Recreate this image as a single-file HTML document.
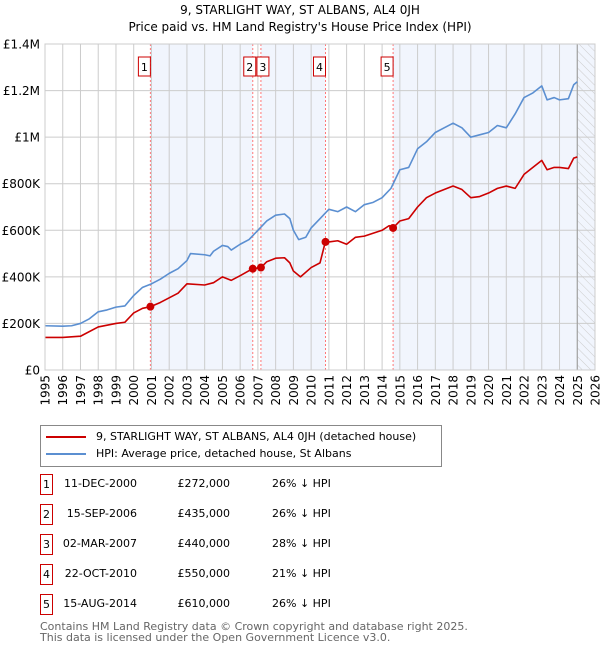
<!DOCTYPE html>
<html><head><meta charset="utf-8">
<style>
body{margin:0;background:#fff;font-family:"DejaVu Sans","Liberation Sans",sans-serif;}
#wrap{position:relative;width:600px;height:650px;overflow:hidden;}
.t{position:absolute;font-size:11px;color:#000;white-space:nowrap;}
.box{position:absolute;border:1px solid #c00;width:11px;height:19px;font-size:11px;text-align:center;line-height:19px;}
</style></head><body>
<div id="wrap">
<div class="t" style="left:0;width:600px;text-align:center;top:2px;font-size:12px;line-height:17px;">9, STARLIGHT WAY, ST ALBANS, AL4 0JH<br>Price paid vs. HM Land Registry's House Price Index (HPI)</div>
<svg id="chart" width="600" height="420" style="position:absolute;left:0;top:0;font-family:'DejaVu Sans','Liberation Sans',sans-serif;"></svg>
<div style="position:absolute;left:40px;top:425px;width:400px;height:40px;border:1px solid #888;">
 <div class="t" style="left:5px;top:4px;"><span style="display:inline-block;width:40px;height:2px;background:#c00;vertical-align:middle;margin-right:10px;"></span>9, STARLIGHT WAY, ST ALBANS, AL4 0JH (detached house)</div>
 <div class="t" style="left:5px;top:21px;"><span style="display:inline-block;width:40px;height:2px;background:#5b8fd1;vertical-align:middle;margin-right:10px;"></span>HPI: Average price, detached house, St Albans</div>
</div>
<div id="table"></div>
<div class="t" style="left:40px;top:621px;font-size:11px;color:#666;line-height:11px;">Contains HM Land Registry data © Crown copyright and database right 2025.<br>This data is licensed under the Open Government Licence v3.0.</div>
</div>
<script>
const yearTicks=[1995,1996,1997,1998,1999,2000,2001,2002,2003,2004,2005,2006,2007,2008,2009,2010,2011,2012,2013,2014,2015,2016,2017,2018,2019,2020,2021,2022,2023,2024,2025,2026];
const priceTicks=[0,200000,400000,600000,800000,1000000,1200000,1400000];
const priceTickLabels=["£0","£200K","£400K","£600K","£800K","£1M","£1.2M","£1.4M"];
const hpiYears=[1995,1996,1996.5,1997,1997.5,1998,1998.5,1999,1999.5,2000,2000.5,2001,2001.5,2002,2002.5,2003,2003.2,2004,2004.3,2004.5,2005,2005.3,2005.5,2006,2006.5,2007,2007.5,2008,2008.5,2008.8,2009,2009.3,2009.7,2010,2010.5,2011,2011.5,2012,2012.5,2013,2013.5,2014,2014.5,2015,2015.5,2016,2016.5,2017,2017.5,2018,2018.5,2019,2019.5,2020,2020.5,2021,2021.5,2022,2022.5,2023,2023.3,2023.7,2024,2024.5,2024.8,2025];
const hpiValues=[190,188,190,200,220,250,258,270,275,320,355,370,390,415,435,470,500,495,490,510,535,530,515,540,560,600,640,665,670,650,600,560,570,610,650,690,680,700,680,710,720,740,780,860,870,950,980,1020,1040,1060,1040,1000,1010,1020,1050,1040,1100,1170,1190,1220,1160,1170,1160,1165,1225,1238];
const propYears=[1995,1996,1997,1998,1999,1999.5,2000,2000.5,2000.95,2001.5,2002,2002.5,2003,2004,2004.5,2005,2005.5,2006,2006.7,2007.17,2007.5,2008,2008.5,2008.8,2009,2009.4,2010,2010.5,2010.8,2011,2011.5,2012,2012.5,2013,2014,2014.4,2014.62,2015,2015.5,2016,2016.5,2017,2017.5,2018,2018.5,2019,2019.5,2020,2020.5,2021,2021.5,2022,2022.5,2023,2023.3,2023.7,2024,2024.5,2024.8,2025];
const propValues=[140,140,145,185,200,205,245,265,272,290,310,330,370,365,375,400,385,405,435,440,465,480,482,460,425,400,440,460,550,550,555,540,570,575,600,620,610,640,650,700,740,760,775,790,775,740,745,760,780,790,780,840,870,900,860,870,870,865,910,915];
const saleYears=[2000.94,2006.71,2007.17,2010.81,2014.62];
const salePrices=[272000,435000,440000,550000,610000];
const saleLabels=["1","2","3","4","5"];
const saleDates=["11-DEC-2000","15-SEP-2006","02-MAR-2007","22-OCT-2010","15-AUG-2014"];
const saleDiffs=["26% ↓ HPI","26% ↓ HPI","28% ↓ HPI","21% ↓ HPI","26% ↓ HPI"];

const L=45,R=595,T=44,B=370;
const x=y=>L+(y-1995)/(2026-1995)*(R-L);
const yv=v=>B-v/1400000*(B-T);
const svg=document.getElementById('chart');
const NS='http://www.w3.org/2000/svg';
function mk(tag,attrs,parent){const e=document.createElementNS(NS,tag);for(const k in attrs)e.setAttribute(k,attrs[k]);(parent||svg).appendChild(e);return e;}
const bounds=saleYears.concat([2026]);
for(let i=0;i<bounds.length-1;i+=2){
 const r=mk('rect',{x:x(bounds[i]),y:T,width:x(bounds[i+1])-x(bounds[i]),height:B-T,fill:'#f1f5fd'});
 
 
}
const defs=mk('defs',{});
const pat=mk('pattern',{id:'hatch',width:6,height:6,patternUnits:'userSpaceOnUse',patternTransform:'rotate(-45)'},defs);
mk('line',{x1:0,y1:0,x2:0,y2:6,stroke:'#ccc','stroke-width':1},pat);
const h=mk('rect',{x:x(2025),y:T,width:R-x(2025),height:B-T,fill:'url(#hatch)'});


yearTicks.forEach(yr=>{
 const g=mk('line',{x1:x(yr),x2:x(yr),y1:T,y2:B,stroke:'#ccc','stroke-width':1});
 
 
 const t=mk('text',{x:0,y:0,'font-size':12,'text-anchor':'end',transform:`translate(${x(yr)+4.5},${B+5}) rotate(-90)`});
 t.textContent=yr;
 
 
});
priceTicks.forEach((p,i)=>{
 const g=mk('line',{x1:L,x2:R,y1:yv(p),y2:yv(p),stroke:'#ccc','stroke-width':1});
 
 
 const t=mk('text',{x:L-5,y:yv(p)+4.5,'font-size':12,'text-anchor':'end'});
 t.textContent=priceTickLabels[i];
 
 
});
const nl=mk('line',{x1:x(2025),x2:x(2025),y1:T,y2:B,stroke:'#999','stroke-width':1});


saleYears.forEach((s,i)=>{
 const l=mk('line',{x1:x(s),x2:x(s),y1:T,y2:B,stroke:'#f77','stroke-width':1,'stroke-dasharray':'2,2'});
 
 
 const bx=i===1?x(s)-9:(i===2?x(s)-4:x(s)-12);
 const r=mk('rect',{x:bx,y:57,width:12,height:19,fill:'#fff',stroke:'#c00','stroke-width':1});
 
 
 const t=mk('text',{x:bx+6,y:71,'font-size':11,'text-anchor':'middle'});
 t.textContent=saleLabels[i];
 
 
});
function line(xs,vs,color,name){
 const p=mk('polyline',{points:xs.map((a,i)=>x(a)+','+yv(vs[i]*1000)).join(' '),fill:'none',stroke:color,'stroke-width':1.6,'stroke-linejoin':'round'});
 
 
}
line(hpiYears,hpiValues,'#5b8fd1','hpi-line');
line(propYears,propValues,'#c00','property-price-line');
saleYears.forEach((s,i)=>{
 const c=mk('circle',{cx:x(s),cy:yv(salePrices[i]),r:4,fill:'#c00'});
 
 
});
const ax=mk('rect',{x:L,y:T,width:R-L,height:B-T,fill:'none',stroke:'#ccc','stroke-width':1});


const tb=document.getElementById('table');
saleLabels.forEach((lab,i)=>{
 const top=478+i*30;
 const row=document.createElement('div');
 
 
 row.innerHTML=`<div class="box" style="left:40px;top:${top-4}px;">${lab}</div>
 <div class="t" style="left:57px;width:80px;text-align:right;top:${top-1}px;">${saleDates[i]}</div>
 <div class="t" style="left:160px;width:70px;text-align:right;top:${top-1}px;">£${(salePrices[i]).toLocaleString('en-GB')}</div>
 <div class="t" style="left:272px;top:${top-1}px;">${saleDiffs[i]}</div>`;
 tb.appendChild(row);
});
</script>
</body></html>
